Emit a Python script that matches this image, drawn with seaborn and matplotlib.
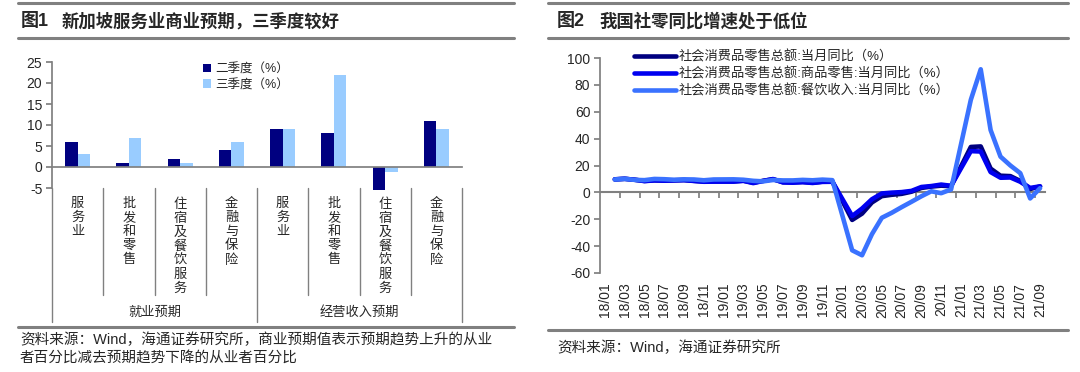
import pandas as pd
import matplotlib
matplotlib.use('Agg')
import matplotlib.pyplot as plt
import matplotlib.transforms as mtransforms
from matplotlib.lines import Line2D
import seaborn as sns

# 图1：新加坡服务业商业预期
groups = ['就业预期', '经营收入预期']
sectors = ['服务业', '批发和零售', '住宿及餐饮服务', '金融与保险']
q2 = [6, 1, 2, 4, 9, 8, -5.5, 11]
q3 = [3, 7, 1, 6, 9, 22, -1.2, 9]
season_names = ['二季度（%）', '三季度（%）']

# 图2：社零同比（1月无单月数据）
months = [f'{y}/{m:02d}' for y in range(18, 22) for m in range(1, 13)][:45]
total = [None, 9.7, 10.1, 9.4, 8.5, 9.0, 8.8, 9.0, 9.2, 8.6, 8.1, 8.2,
         None, 8.2, 8.7, 7.2, 8.6, 9.8, 7.6, 7.5, 7.8, 7.2, 8.0, 8.0,
         None, -20.5, -15.8, -7.5, -2.8, -1.8, -1.1, 0.5, 3.3, 4.3, 5.0, 4.6,
         None, 33.8, 34.2, 17.7, 12.4, 12.1, 8.5, 2.5, 4.4]
goods = [None, 9.7, 10.1, 9.4, 8.4, 8.9, 8.7, 8.9, 9.1, 8.5, 7.9, 8.0,
         None, 8.0, 8.6, 6.9, 8.5, 9.9, 7.4, 7.2, 7.6, 7.0, 7.8, 7.9,
         None, -17.6, -12.0, -5.1, -0.8, -0.2, 0.2, 1.1, 4.0, 4.7, 5.8, 4.9,
         None, 30.7, 30.4, 15.1, 10.9, 11.1, 7.9, 3.3, 4.5]
catering = [None, 9.6, 10.1, 9.3, 9.1, 10.0, 9.8, 9.4, 9.7, 9.6, 9.0, 9.6,
            None, 9.7, 9.4, 8.6, 8.2, 9.2, 8.9, 8.9, 9.3, 9.0, 9.5, 9.1,
            None, -43.1, -46.8, -31.1, -18.9, -15.2, -11.0, -7.0, -2.9, 0.8, -0.6, 2.2,
            None, 68.9, 91.6, 46.4, 26.6, 20.0, 14.3, -4.5, 3.1]
series_names = ['社会消费品零售总额:当月同比（%）',
                '社会消费品零售总额:商品零售:当月同比（%）',
                '社会消费品零售总额:餐饮收入:当月同比（%）']

sns.set_theme(style='white')
plt.rcParams['font.family'] = ['Liberation Sans', 'Noto Sans CJK SC', 'DejaVu Sans']
plt.rcParams['axes.unicode_minus'] = False

GRAY = '#808080'
fig = plt.figure(figsize=(10.8, 3.72), dpi=100)
W, H = 1080, 372


def box(l, t, r, b):
    return [l / W, 1 - b / H, (r - l) / W, (b - t) / H]


def hline(x0, x1, y, lw=2.2):
    fig.add_artist(Line2D([x0 / W, x1 / W], [1 - y / H, 1 - y / H],
                          color=GRAY, lw=lw, transform=fig.transFigure))


# 页眉、页脚
for x0, x1 in [(18, 514), (548, 1068)]:
    hline(x0, x1, 3)
    hline(x0, x1, 38)
hline(18, 514, 327)
hline(548, 1068, 330)

fig.text(21 / W, 1 - 21 / H, '图1', fontsize=13, fontweight='bold', va='center')
fig.text(62 / W, 1 - 21 / H, '新加坡服务业商业预期，三季度较好', fontsize=12.5,
         fontweight='bold', va='center')
fig.text(557 / W, 1 - 21 / H, '图2', fontsize=13, fontweight='bold', va='center')
fig.text(599 / W, 1 - 21 / H, '我国社零同比增速处于低位', fontsize=12.5,
         fontweight='bold', va='center')
fig.text(20 / W, 1 - 340 / H, '资料来源：Wind，海通证券研究所，商业预期值表示预期趋势上升的从业',
         fontsize=10.5, va='center')
fig.text(20 / W, 1 - 358 / H, '者百分比减去预期趋势下降的从业者百分比',
         fontsize=10.5, va='center')
fig.text(557 / W, 1 - 348 / H, '资料来源：Wind，海通证券研究所', fontsize=10.5, va='center')

# ---- 图1 ----
ax1 = fig.add_axes(box(52, 62, 462, 188))
keys = [f'{g}-{s}' for g in groups for s in sectors]
df1 = pd.DataFrame({'key': keys * 2,
                    'value': q2 + q3,
                    'season': [season_names[0]] * len(q2) + [season_names[1]] * len(q3)})
sns.barplot(data=df1, x='key', y='value', hue='season', order=keys,
            palette=['#000080', '#99CCFF'], width=0.49, gap=0, saturation=1,
            linewidth=0, errorbar=None, ax=ax1)
for p in ax1.patches:
    p.set_clip_on(False)
ax1.set_xlim(-0.5, 7.5)
ax1.set_ylim(-5, 25)
ax1.set_yticks(range(-5, 30, 5))
ax1.set_xlabel('')
ax1.set_ylabel('')
for s in ['top', 'right']:
    ax1.spines[s].set_visible(False)
ax1.spines['bottom'].set_position(('data', 0))
ax1.spines['bottom'].set_color(GRAY)
ax1.spines['left'].set_color(GRAY)
ax1.set_xticks([k - 0.5 for k in range(9)])
ax1.tick_params(axis='x', length=4, color=GRAY, labelbottom=False)
ax1.tick_params(axis='y', length=4, color=GRAY, labelsize=10, left=True, pad=3)

trans1 = mtransforms.blended_transform_factory(ax1.transData, ax1.transAxes)
for i, k in enumerate(keys):
    ax1.text(i, -0.08, '\n'.join(k.split('-')[1]), transform=trans1,
             ha='center', va='top', fontsize=9.5, linespacing=1.2)
for k in range(9):
    bottom = -1.063 if k in (0, 4, 8) else -0.849
    ax1.add_line(Line2D([k - 0.5, k - 0.5], [0, bottom], color=GRAY, lw=1,
                        transform=trans1, clip_on=False))
for j, g in enumerate(groups):
    ax1.text(1.5 + 4 * j, -0.99, g, transform=trans1, ha='center', va='center',
             fontsize=9.5)
ax1.legend(loc='upper left', bbox_to_anchor=(0.355, 1.03), frameon=False,
           fontsize=9, handlelength=0.7, handleheight=0.7, handletextpad=0.3,
           labelspacing=0.3, borderaxespad=0)

# ---- 图2 ----
ax2 = fig.add_axes(box(600, 58, 1045, 273))
df2 = pd.DataFrame({'idx': range(len(months)), series_names[0]: total,
                    series_names[1]: goods, series_names[2]: catering})
long = df2.melt(id_vars='idx', var_name='series', value_name='value').dropna()
sns.lineplot(data=long, x='idx', y='value', hue='series', hue_order=series_names,
             palette=['#000080', '#0000F0', '#3A72FF'], linewidth=3.3,
             solid_joinstyle='round', solid_capstyle='round', ax=ax2)
ax2.set_xlim(-0.5, len(months) - 0.5)
ax2.set_ylim(-60, 100)
ax2.set_yticks(range(-60, 120, 20))
ax2.set_xlabel('')
ax2.set_ylabel('')
for s in ['top', 'right', 'bottom']:
    ax2.spines[s].set_visible(False)
ax2.spines['left'].set_color(GRAY)
ax2.set_xticks(range(0, len(months), 2))
ax2.set_xticklabels(months[::2], rotation=90)
ax2.tick_params(axis='x', length=0, labelsize=10, pad=7)
ax2.tick_params(axis='y', length=4, color=GRAY, labelsize=10, left=True, pad=3)

zero = ax2.secondary_xaxis(60 / 160)
zero.set_xticks([k + 1.5 for k in range(0, len(months) - 1, 2)])
zero.tick_params(length=4, color=GRAY, labelbottom=False, labeltop=False,
                 direction='out')
zero.spines['bottom'].set_color(GRAY)
zero.spines['bottom'].set_linewidth(1.5)

ax2.legend(loc='upper left', bbox_to_anchor=(0.065, 1.06), frameon=False,
           fontsize=9.5, handlelength=3.2, handletextpad=0.2,
           labelspacing=0.3, borderaxespad=0)

fig.savefig('out.png', dpi=100)
